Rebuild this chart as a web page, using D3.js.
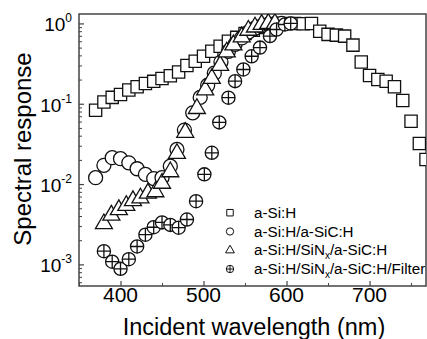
<!DOCTYPE html>
<html lang="en">
<head>
<meta charset="UTF-8">
<title>spectral response</title>
<script src="https://cdn.jsdelivr.net/npm/d3@7"></script>
<style>
  body { margin: 0; background: #fff; }
  text { font-family: Arial, "Liberation Sans", sans-serif; fill: #000; }
</style>
</head>
<body>
<script>
// a-Si:H
let sqNm  = [370,380,390,400,410,420,430,440,450,460,470,480,490,500,510,520,530,540,550,560,570,580,590,600,610,620,630,640,650,660,670,680,690,700,710,720,730,740,750,760,768];
let sqVal = [0.083,0.105,0.12,0.13,0.148,0.163,0.179,0.19,0.206,0.223,0.248,0.30,0.339,0.39,0.45,0.52,0.60,0.67,0.75,0.82,0.89,0.94,0.98,1.0,1.0,0.99,1.0,0.80,0.73,0.715,0.695,0.537,0.33,0.225,0.20,0.191,0.163,0.11,0.0607,0.032,0.0202];
// a-Si:H/a-SiC:H
let ciNm  = [370,380,390,400,410,420,430,440,450,460,468,477,487,496,505,513,521,530,538,546,554,562,570,578,586,594];
let ciVal = [0.012,0.0171,0.0213,0.0207,0.0184,0.0155,0.0132,0.0117,0.012,0.0167,0.027,0.047,0.077,0.12,0.17,0.24,0.33,0.45,0.55,0.66,0.78,0.87,0.93,0.97,0.99,1.0];
// a-Si:H/SiNx/a-SiC:H
let trNm  = [380,389,398,407,415,424,433,442,450,460,468,478,492,502,510,520,528,536,546,554,562,570,578,586];
let trVal = [0.0032,0.0041,0.0048,0.0054,0.0062,0.0067,0.0077,0.008,0.0102,0.0142,0.024,0.044,0.087,0.148,0.206,0.30,0.44,0.54,0.68,0.82,0.9,0.97,1.0,1.0];
// a-Si:H/SiNx/a-SiC:H/Filter
let fiNm  = [380,390,400,410,420,430,440,450,460,470,480,491,501,510,519,530,538,548,558,568,580,588,598,605];
let fiVal = [0.00146,0.00108,0.00088,0.00116,0.00167,0.00234,0.0029,0.00333,0.0031,0.00286,0.00362,0.00612,0.0132,0.0245,0.0586,0.119,0.191,0.267,0.39,0.50,0.695,0.84,0.97,1.0];

let xMajor = [400,500,600,700];
let xMinor = [350,450,550,650,750];
let yMajor = [1,0.1,0.01,0.001];

let width = 427, height = 339;
let padL = 79, padR = 426, padT = 14, padB = 286;

let svg = d3.select("body").append("svg")
    .attr("width", width)
    .attr("height", height);

let xScale = d3.scaleLinear().domain([350, 768]).range([padL, padR]);
let yScale = d3.scaleLog().domain([5.38e-4, 1.31]).range([padB, padT]);

// minor y ticks 2..9 per decade
let yMinor = [];
[0.0001,0.001,0.01,0.1,1].forEach(function (d) {
    for (let k = 2; k <= 9; k++) {
        let v = d * k;
        if (v > 5.38e-4 && v < 1.31) yMinor.push(v);
    }
});

let axisColor = "#444";

svg.append("g")
    .attr("transform", "translate(" + padL + ",0)")
    .call(d3.axisLeft(yScale).tickValues(yMinor).tickSize(-3).tickFormat(""))
    .call(g => g.select(".domain").remove())
    .selectAll("line").attr("stroke", axisColor);
svg.append("g")
    .attr("transform", "translate(" + padL + ",0)")
    .call(d3.axisLeft(yScale).tickValues(yMajor).tickSize(-5).tickFormat(""))
    .call(g => g.select(".domain").remove())
    .selectAll("line").attr("stroke", axisColor).attr("stroke-width", 1.2);

svg.append("g")
    .attr("transform", "translate(0," + padB + ")")
    .call(d3.axisBottom(xScale).tickValues(xMinor).tickSize(-3).tickFormat(""))
    .call(g => g.select(".domain").remove())
    .selectAll("line").attr("stroke", axisColor);
svg.append("g")
    .attr("transform", "translate(0," + padB + ")")
    .call(d3.axisBottom(xScale).tickValues(xMajor).tickSize(-5).tickFormat(""))
    .call(g => g.select(".domain").remove())
    .selectAll("line").attr("stroke", axisColor).attr("stroke-width", 1.2);

// frame
svg.append("rect")
    .attr("x", padL).attr("y", padT)
    .attr("width", padR - padL).attr("height", padB - padT)
    .attr("fill", "none")
    .attr("stroke", axisColor)
    .attr("stroke-width", 1.5);

// tick labels
svg.selectAll(".xlab").data(xMajor).enter().append("text")
    .attr("x", d => xScale(d))
    .attr("y", 302)
    .attr("text-anchor", "middle")
    .attr("font-size", "21px")
    .text(d => d);

yMajor.forEach(function (d) {
    let t = svg.append("text")
        .attr("x", 72)
        .attr("y", yScale(d) + 8)
        .attr("text-anchor", "end")
        .attr("font-size", "19px");
    t.append("tspan").text("10");
    t.append("tspan")
        .attr("dy", -9)
        .attr("font-size", "12px")
        .text(String(Math.round(Math.log10(d))));
});

// axis titles
svg.append("text")
    .attr("x", 254)
    .attr("y", 335)
    .attr("text-anchor", "middle")
    .attr("font-size", "23.5px")
    .text("Incident wavelength (nm)");

svg.append("text")
    .attr("transform", "translate(31,149) rotate(-90)")
    .attr("text-anchor", "middle")
    .attr("font-size", "24px")
    .text("Spectral response");

// markers
svg.append("clipPath").attr("id", "plotclip")
    .append("rect")
    .attr("x", padL).attr("y", padT)
    .attr("width", padR - padL).attr("height", padB - padT);

let plot = svg.append("g").attr("clip-path", "url(#plotclip)");

function zip(nm, val) {
    return nm.map((d, i) => ({x: d, y: val[i]}));
}

function crossCircle(r) {
    let p = d3.path();
    p.moveTo(r, 0);
    p.arc(0, 0, r, 0, 2 * Math.PI);
    p.moveTo(-r, 0); p.lineTo(r, 0);
    p.moveTo(0, -r); p.lineTo(0, r);
    return p.toString();
}

let series = [
    {data: zip(sqNm, sqVal), path: d3.symbol(d3.symbolSquare, 150)()},
    {data: zip(ciNm, ciVal), path: d3.symbol(d3.symbolCircle, 154)()},
    {data: zip(trNm, trVal), path: d3.symbol(d3.symbolTriangle, 125)()},
    {data: zip(fiNm, fiVal), path: crossCircle(6.6)}
];

series.forEach(function (s) {
    plot.append("g").selectAll("path")
        .data(s.data)
        .enter().append("path")
        .attr("d", s.path)
        .attr("transform", d => "translate(" + xScale(d.x) + "," + yScale(d.y) + ")")
        .attr("fill", "#fff")
        .attr("stroke", "#111")
        .attr("stroke-width", 1.3);
});

// legend
let legendPaths = [
    d3.symbol(d3.symbolSquare, 42)(),
    d3.symbol(d3.symbolCircle, 42)(),
    d3.symbol(d3.symbolTriangle, 34)(),
    crossCircle(3.7)
];
let legendY = [212.7, 231.5, 250.3, 269];

legendPaths.forEach(function (p, i) {
    svg.append("path")
        .attr("d", p)
        .attr("transform", "translate(230," + legendY[i] + ")")
        .attr("fill", "#fff")
        .attr("stroke", "#111")
        .attr("stroke-width", 1);
});

function legendText(i, parts) {
    let t = svg.append("text")
        .attr("x", 254)
        .attr("y", legendY[i] + 5)
        .attr("font-size", "15.2px");
    parts.forEach(function (p) {
        if (p.sub) {
            t.append("tspan").attr("dy", 4).attr("font-size", "10px").text(p.text);
        } else {
            t.append("tspan").attr("dy", p.up ? -4 : 0).text(p.text);
        }
    });
}
legendText(0, [{text: "a-Si:H"}]);
legendText(1, [{text: "a-Si:H/a-SiC:H"}]);
legendText(2, [{text: "a-Si:H/SiN"}, {text: "x", sub: true}, {text: "/a-SiC:H", up: true}]);
legendText(3, [{text: "a-Si:H/SiN"}, {text: "x", sub: true}, {text: "/a-SiC:H/Filter", up: true}]);
</script>
</body>
</html>
